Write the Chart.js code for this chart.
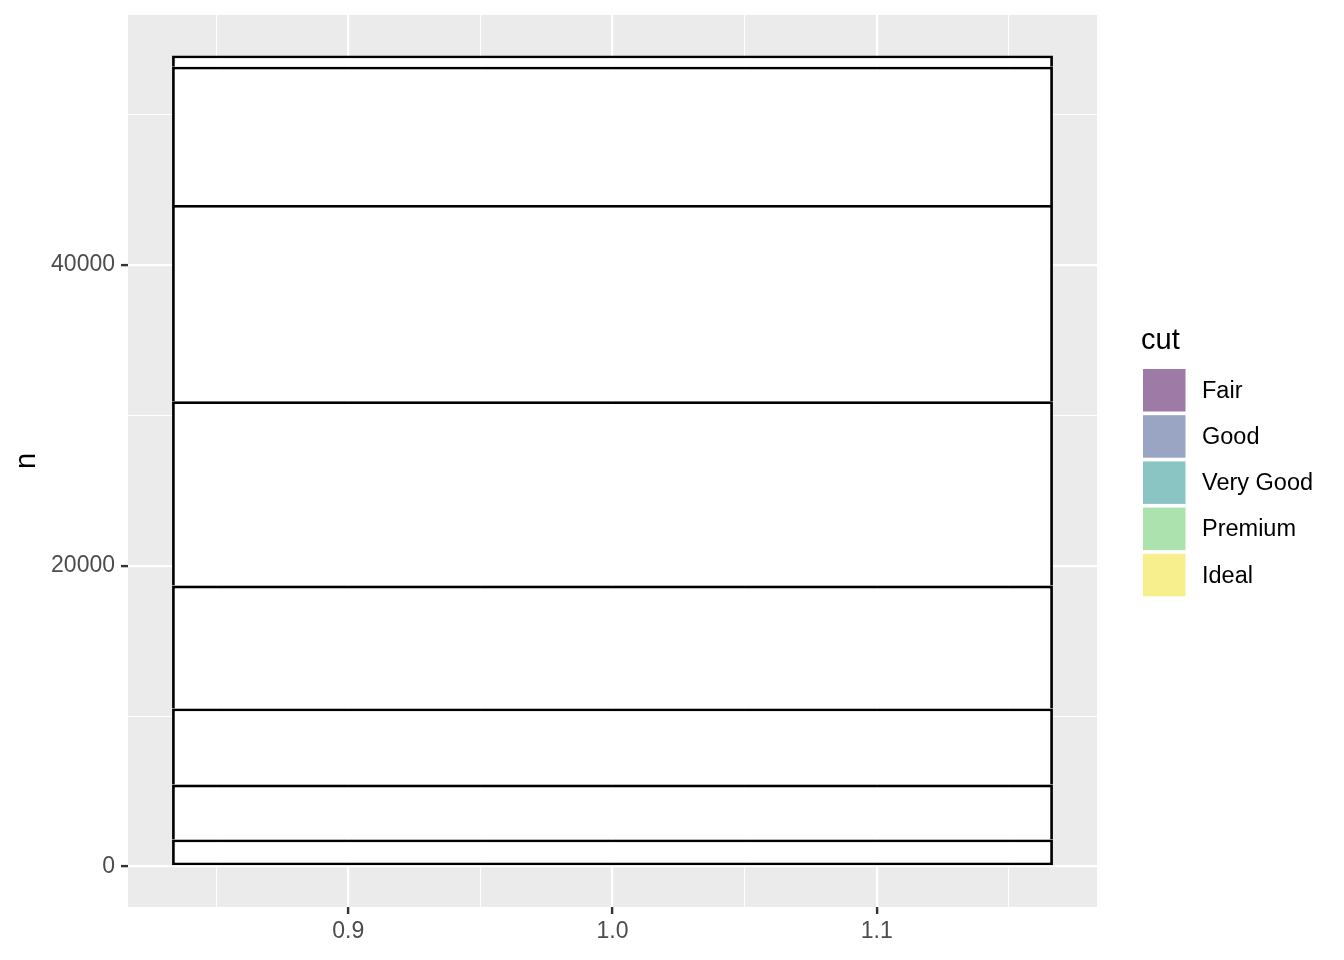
<!DOCTYPE html>
<html>
<head>
<meta charset="utf-8">
<script src="https://cdn.jsdelivr.net/npm/chart.js@4/dist/chart.umd.min.js"></script>
<style>
html,body{margin:0;padding:0;background:#fff;}
#wrap{width:1344px;height:960px;position:relative;}
</style>
</head>
<body>
<div id="wrap"><canvas id="c" width="1344" height="960"></canvas></div>
<script>
// ---- data ----
const xValue = 1;
const barWidth = 1 / 3;
const segmentLabels = ["IF", "VVS1", "VVS2", "VS1", "VS2", "SI1", "SI2", "I1"]; // bottom to top
const segmentCounts = [1790, 3655, 5066, 8171, 12258, 13065, 9194, 741];
const yMajorTicks = [0, 20000, 40000];
const yMinorTicks = [10000, 30000, 50000];
const xMajorTicks = [0.9, 1.0, 1.1];
const xMinorTicks = [0.85, 0.95, 1.05, 1.15];
const cutLabels = ["Fair", "Good", "Very Good", "Premium", "Ideal"];
const cutColors = ["rgba(68,1,84,0.52)", "rgba(59,82,139,0.52)", "rgba(33,144,140,0.52)", "rgba(93,200,99,0.52)", "rgba(240,222,37,0.52)"];

// ---- derived scale ranges (ggplot 5% expansion) ----
const total = segmentCounts.reduce((a, b) => a + b, 0);
const yExp = total * 0.05;
const yMin = -yExp, yMax = total + yExp;
const xMin = xValue - barWidth / 2 - barWidth * 0.05;
const xMax = xValue + barWidth / 2 + barWidth * 0.05;
const barPct = barWidth / (xMax - xMin);

const FONT = '"Liberation Sans", Arial, Helvetica, sans-serif';

const panelBg = {
  id: 'panelBg',
  beforeDraw(chart) {
    const {ctx, chartArea: a} = chart;
    ctx.save();
    ctx.fillStyle = '#ebebeb';
    ctx.fillRect(a.left, a.top, a.right - a.left, a.bottom - a.top);
    ctx.restore();
  }
};

const cutLegend = {
  id: 'cutLegend',
  afterDraw(chart) {
    const {ctx, chartArea: a} = chart;
    ctx.save();
    const x0 = a.right + 46;
    ctx.fillStyle = '#000';
    ctx.font = '29px ' + FONT;
    ctx.textAlign = 'left';
    ctx.textBaseline = 'alphabetic';
    ctx.fillText('cut', x0 - 2, 349);
    const y0 = 369, step = 46.2, size = 42.5;
    for (let i = 0; i < cutLabels.length; i++) {
      const y = y0 + i * step;
      ctx.fillStyle = '#fff';
      ctx.fillRect(x0, y, size, size);
      ctx.fillStyle = cutColors[i];
      ctx.fillRect(x0, y, size, size);
      ctx.fillStyle = '#000';
      ctx.font = '23.5px ' + FONT;
      ctx.textBaseline = 'middle';
      ctx.fillText(cutLabels[i], x0 + 59, y + size / 2 + 1);
    }
    ctx.restore();
  }
};

const datasets = segmentCounts.map((v, i) => ({
  label: segmentLabels[i],
  data: [v],
  xAxisID: 'x',
  yAxisID: 'y',
  backgroundColor: '#ffffff',
  borderColor: '#000000',
  borderWidth: 2.8,
  borderSkipped: i === 0 ? false : 'start',
  inflateAmount: 0,
  categoryPercentage: 1,
  barPercentage: barPct
}));

const tickVal = ctx => (ctx && ctx.tick) ? ctx.tick.value : NaN;
const isMajorY = v => yMajorTicks.includes(v);
const isMajorX = v => xMajorTicks.some(t => Math.abs(t - v) < 1e-9);

new Chart(document.getElementById('c'), {
  type: 'bar',
  data: { labels: [String(xValue)], datasets },
  options: {
    responsive: false,
    animation: false,
    devicePixelRatio: 1,
    layout: { padding: { left: 0, right: 247, top: 15, bottom: 0 } },
    plugins: { legend: { display: false }, tooltip: { enabled: false } },
    scales: {
      x: {
        type: 'category',
        stacked: true,
        display: false,
        offset: true
      },
      x2: {
        type: 'linear',
        axis: 'x',
        position: 'bottom',
        offset: false,
        min: xMin,
        max: xMax,
        afterBuildTicks(scale) {
          scale.ticks = [...xMajorTicks, ...xMinorTicks].sort((a, b) => a - b).map(v => ({ value: v }));
        },
        afterFit(scale) {
          scale.height = 53;
          scale.paddingLeft = 0; scale.paddingRight = 0;
        },
        border: { display: false },
        grid: {
          offset: false,
          color: '#ffffff',
          lineWidth: ctx => isMajorX(tickVal(ctx)) ? 2.2 : 1.1,
          tickColor: ctx => isMajorX(tickVal(ctx)) ? '#333333' : 'rgba(0,0,0,0)',
          tickLength: 7,
          tickWidth: 2.4,
          drawTicks: true
        },
        ticks: {
          autoSkip: false,
          maxRotation: 0,
          padding: 4,
          color: '#4d4d4d',
          font: { family: FONT, size: 23 },
          callback: v => isMajorX(v) ? v.toFixed(1) : ''
        }
      },
      y: {
        type: 'linear',
        stacked: true,
        min: yMin,
        max: yMax,
        afterBuildTicks(scale) {
          scale.ticks = [...yMajorTicks, ...yMinorTicks].sort((a, b) => a - b).map(v => ({ value: v }));
        },
        afterFit(scale) {
          scale.width = 128;
          scale.paddingTop = 0; scale.paddingBottom = 0;
        },
        border: { display: false },
        grid: {
          color: '#ffffff',
          lineWidth: ctx => isMajorY(tickVal(ctx)) ? 2.2 : 1.1,
          tickColor: ctx => isMajorY(tickVal(ctx)) ? '#333333' : 'rgba(0,0,0,0)',
          tickLength: 7,
          tickWidth: 2.4,
          drawTicks: true
        },
        ticks: {
          autoSkip: false,
          padding: 6,
          color: '#4d4d4d',
          font: { family: FONT, size: 23 },
          callback: v => isMajorY(v) ? String(v) : ''
        },
        title: {
          display: true,
          text: 'n',
          color: '#000000',
          font: { family: FONT, size: 29 },
          padding: { top: 10, bottom: 0 }
        }
      }
    }
  },
  plugins: [panelBg, cutLegend]
});
</script>
</body>
</html>
